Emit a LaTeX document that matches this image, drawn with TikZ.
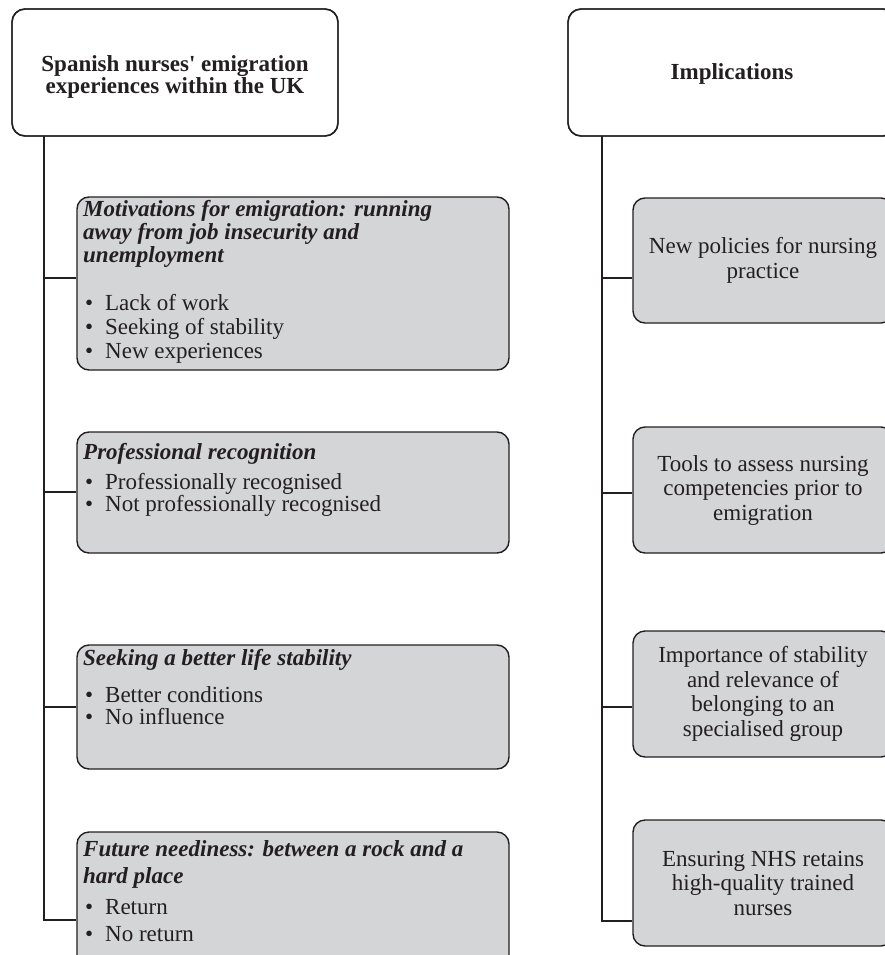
\documentclass[tikz,border=0pt]{standalone}
\usepackage{fontspec}
\setmainfont{Liberation Serif}
\newfontfamily\hfont{Liberation Serif}
\definecolor{boxgray}{RGB}{212,213,215}
\definecolor{ink}{RGB}{35,31,32}
\newcommand{\bul}[1]{\hspace{2pt}\makebox[20pt][l]{•}#1}
\newcommand{\bi}[1]{\textbf{\textit{#1}}}
\begin{document}
\begin{tikzpicture}[x=1pt,y=-1pt,
  hdr/.style={draw=ink,line width=1.4pt,rounded corners=13pt,fill=white,inner sep=0pt},
  htxt/.style={inner sep=0pt,align=center,text=ink,font=\hfont\fontsize{23}{22}\selectfont\bfseries},
  gbox/.style={draw=ink,line width=1.4pt,rounded corners=12pt,fill=boxgray,inner sep=0pt},
  rbox/.style={gbox,align=center,font=\hfont\fontsize{23}{24.5}\selectfont,text=ink},
  ltxt/.style={anchor=base west,inner sep=0pt,align=left,text=ink,
    font=\hfont\fontsize{23}{23}\selectfont},
  conn/.style={draw=ink,line width=1.6pt}]
\useasboundingbox (0,0) rectangle (885,955);
\clip (0,0) rectangle (885,955);
\fill[white] (0,0) rectangle (885,955);

% headers
\node[hdr,minimum width=326,minimum height=127] (h1) at (175,72.5) {};
\node[hdr,minimum width=328,minimum height=127] (h2) at (732,72.5) {};
\node[htxt] (h1t) at (175,77) {Spanish nurses' emigration\\experiences within the UK};
\node[htxt] (h2t) at (732,74) {Implications};

% left boxes
\node[gbox,minimum width=432,minimum height=173] (b1) at (293,283.5) {};
\node[gbox,minimum width=432,minimum height=121] (b2) at (293,492.5) {};
\node[gbox,minimum width=432,minimum height=124] (b3) at (293,707) {};
\node[gbox,minimum width=432,minimum height=150] (b4) at (293,907) {};

% left texts (anchored at the baseline of their last line)
\node[ltxt] (t1) at (83,358) {\bi{Motivations for emigration: running}\\
  \bi{away from job insecurity and}\\
  \bi{unemployment}\\[25pt]
  \bul{Lack of work}\\[1pt]
  \bul{Seeking of stability}\\[1pt]
  \bul{New experiences}};
\node[ltxt] (t2) at (83,511) {\bi{Professional recognition}\\[7pt]
  \bul{Professionally recognised}\\[-1pt]
  \bul{Not professionally recognised}};
\node[ltxt] (t3) at (83,724) {\bi{Seeking a better life stability}\\[14pt]
  \bul{Better conditions}\\[-1pt]
  \bul{No influence}};
\node[ltxt] (t4) at (83,941) {\bi{Future neediness: between a rock and a}\\[4pt]
  \bi{hard place}\\[8pt]
  \bul{Return}\\[4pt]
  \bul{No return}};

% right boxes
\node[rbox,minimum width=260,minimum height=125] (r1) at (763,260.5)
  {New policies for nursing\\practice};
\node[rbox,minimum width=260,minimum height=126] (r2) at (763,490)
  {Tools to assess nursing\\competencies prior to\\emigration};
\node[rbox,minimum width=260,minimum height=126] (r3) at (763,694)
  {Importance of stability\\and relevance of\\belonging to an\\specialised group};
\node[rbox,minimum width=260,minimum height=126] (r4) at (763,883)
  {Ensuring NHS retains\\high-quality trained\\nurses};

% connectors left
\coordinate (lt) at (44,136);
\coordinate (lb) at (44,920);
\draw[conn] (lt) -- (lb) -- (b4.west |- lb);
\draw[conn] (lt |- {(0,278)}) -- (b1.west |- {(0,278)});
\draw[conn] (lt |- {(0,492)}) -- (b2.west |- {(0,492)});
\draw[conn] (lt |- {(0,707)}) -- (b3.west |- {(0,707)});

% connectors right
\coordinate (rt) at (602,136);
\coordinate (rb) at (602,921);
\draw[conn] (rt) -- (rb) -- (r4.west |- rb);
\draw[conn] (rt |- {(0,278)}) -- (r1.west |- {(0,278)});
\draw[conn] (rt |- {(0,493)}) -- (r2.west |- {(0,493)});
\draw[conn] (rt |- {(0,707)}) -- (r3.west |- {(0,707)});

% redraw header borders over trunk tops
\node[hdr,minimum width=326,minimum height=127,fill=none] (h1f) at (h1.center) {};
\node[hdr,minimum width=328,minimum height=127,fill=none] (h2f) at (h2.center) {};
\end{tikzpicture}
\end{document}
